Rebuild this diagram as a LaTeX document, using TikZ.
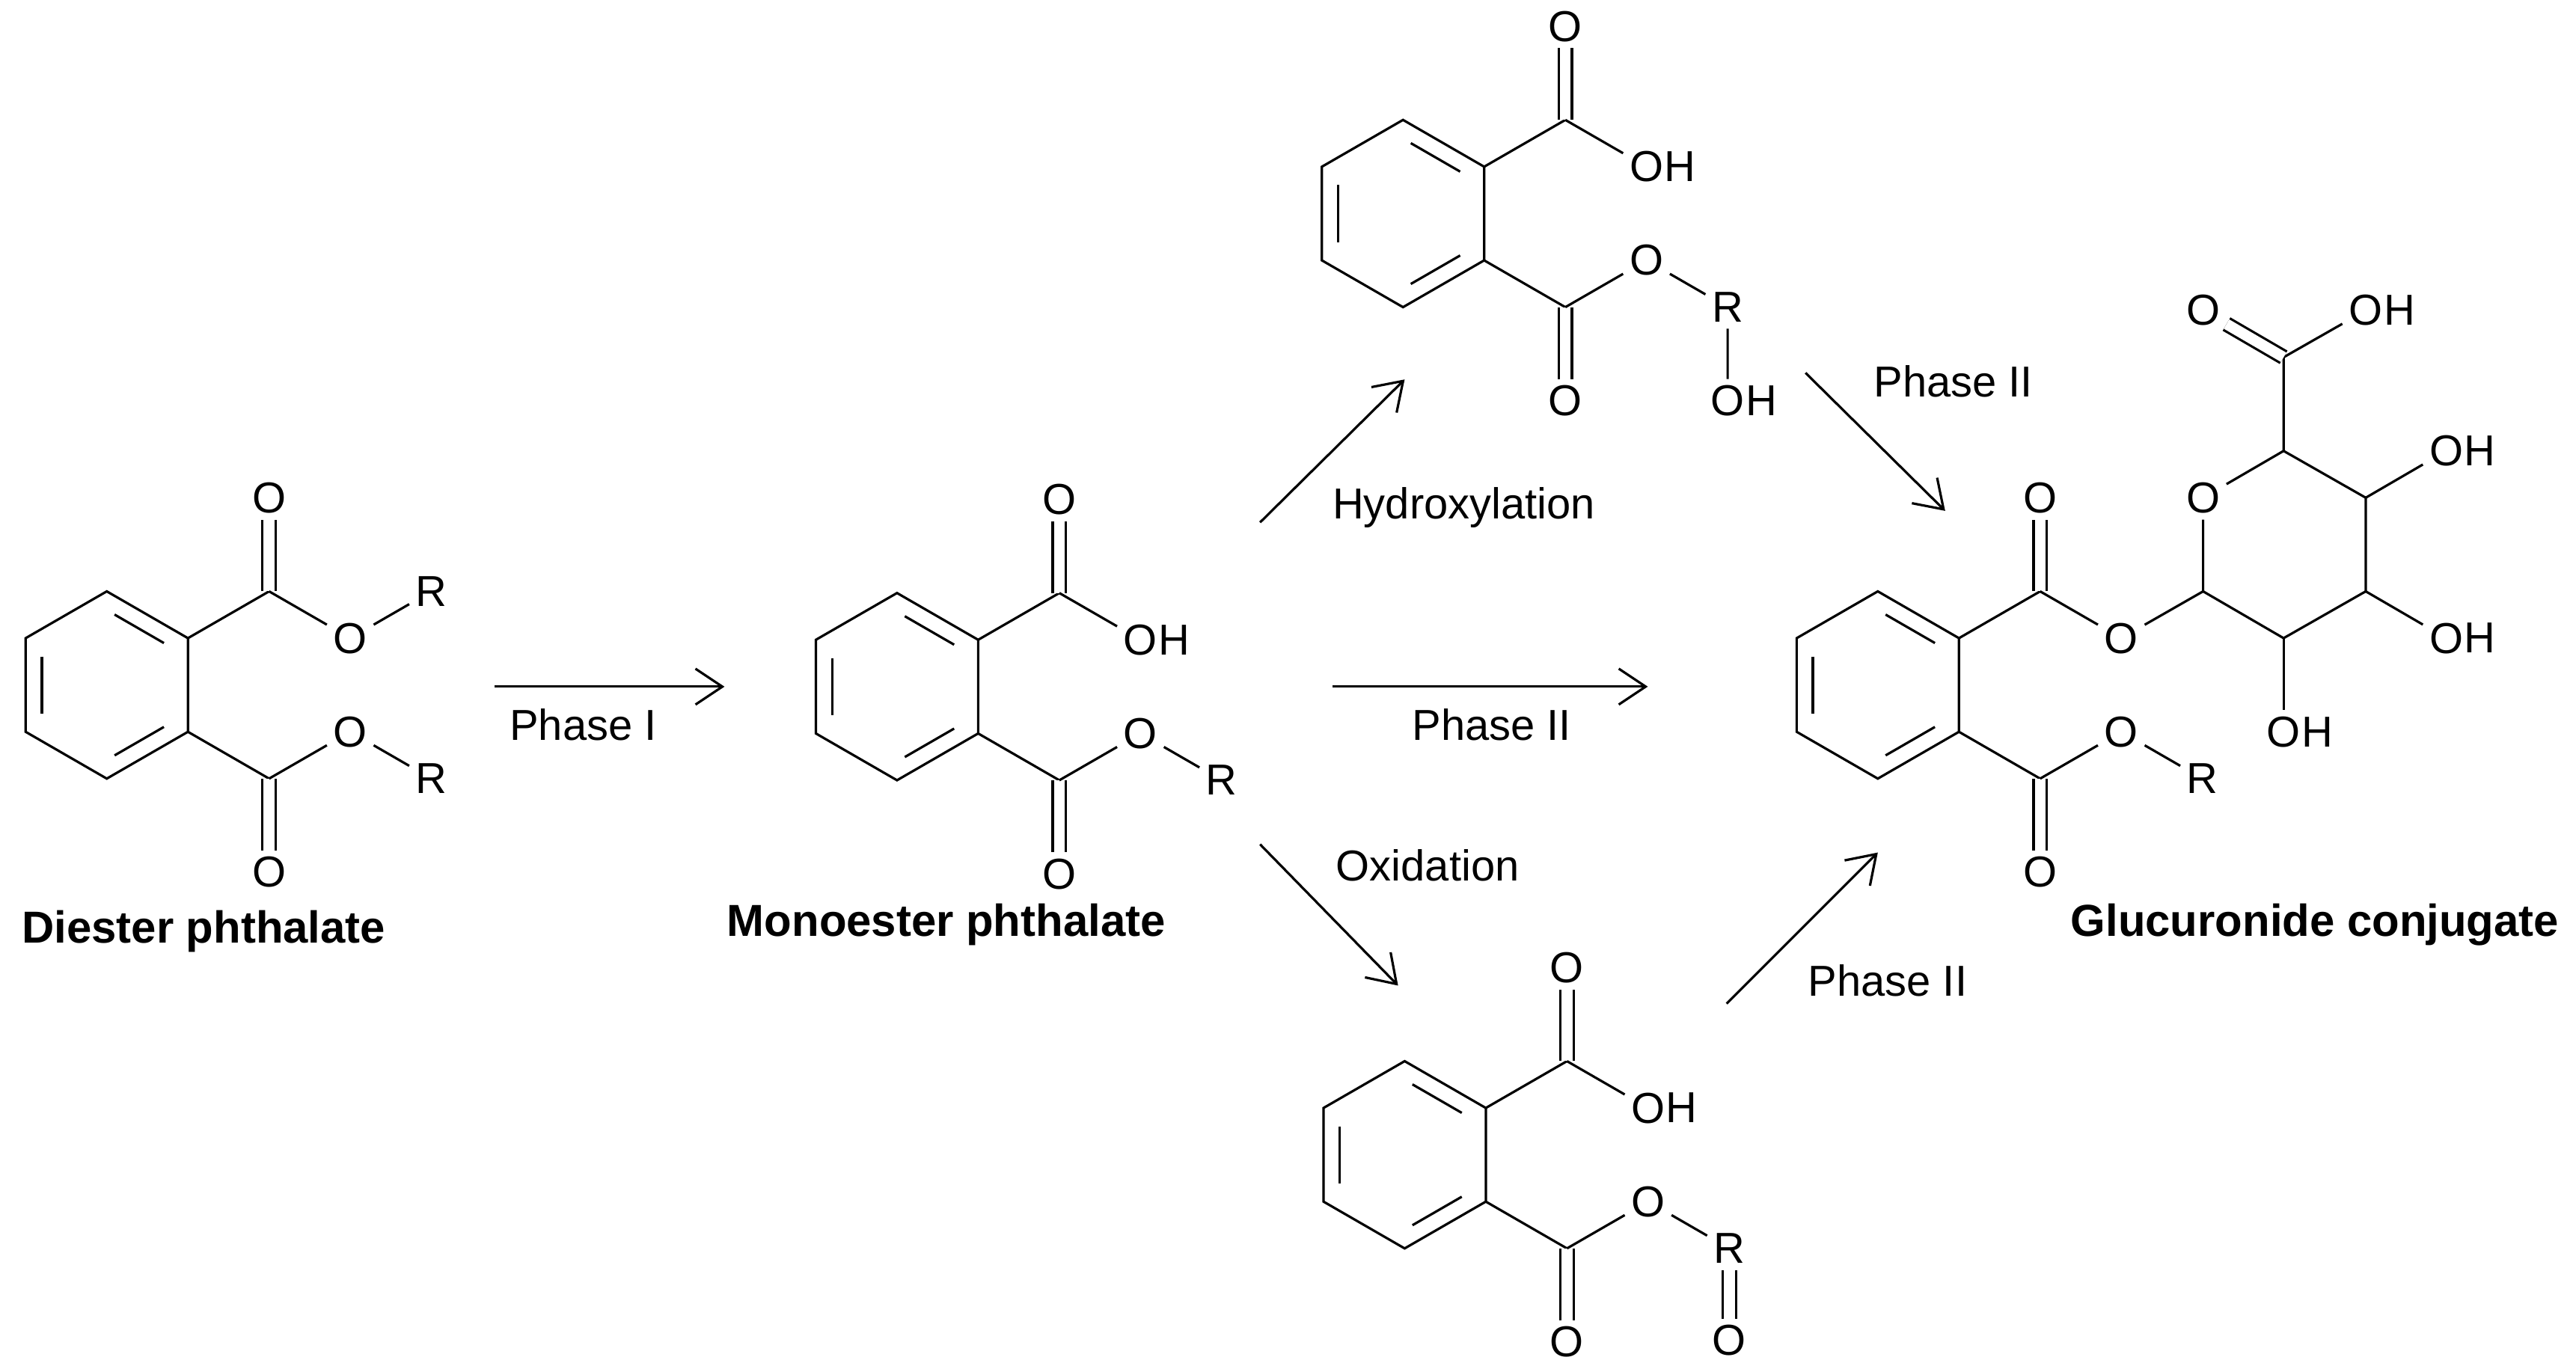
\documentclass[tikz,border=0pt]{standalone}
\usepackage{fontspec}
\setmainfont{Liberation Sans}
\usetikzlibrary{calc,arrows.meta}
\tikzset{
  bond/.style={line width=0.8pt, line join=miter},
  dbl/.style={line width=0.8pt, double, double distance=3.6pt},
  atom/.style={font=\fontsize{14.5}{16}\selectfont, inner sep=2pt},
  oh/.style={atom, label={[atom, inner sep=0pt, label distance=-2pt]east:H}},
  rxn/.style={line width=0.8pt, -{Straight Barb[length=9pt,width=12pt,line width=0.8pt]}},
  lab/.style={font=\fontsize{14.5}{16}\selectfont},
  title/.style={font=\fontsize{15}{17}\selectfont\bfseries},
}
\newcommand\phcore[3]{%
 \begin{scope}[shift={(#2,#3)}]
  \coordinate (#1a) at (49.4,-28.5);
  \coordinate (#1b) at (0,-57);
  \coordinate (#1c) at (-49.4,-28.5);
  \coordinate (#1d) at (-49.4,28.5);
  \coordinate (#1e) at (0,57);
  \coordinate (#1f) at (49.4,28.5);
  \coordinate (#1ia) at (39.5,-22.8);
  \coordinate (#1ib) at (0,-45.6);
  \coordinate (#1ic) at (-39.5,-22.8);
  \coordinate (#1id) at (-39.5,22.8);
  \coordinate (#1ie) at (0,45.6);
  \coordinate (#1if) at (39.5,22.8);
  \coordinate (#1C1) at (98.8,-57);
  \coordinate (#1C2) at (98.8,57);
  \node[atom] (#1O1) at (98.8,-114) {O};
  \node[atom] (#1O2) at (98.8,114) {O};
 \end{scope}
 \draw[bond] (#1a)--(#1b)--(#1c)--(#1d)--(#1e)--(#1f)--cycle;
 \draw[bond] ($(#1ib)!0.12!(#1ia)$)--($(#1ia)!0.12!(#1ib)$);
 \draw[bond] ($(#1ic)!0.12!(#1id)$)--($(#1id)!0.12!(#1ic)$);
 \draw[bond] ($(#1ie)!0.12!(#1if)$)--($(#1if)!0.12!(#1ie)$);
 \draw[bond] (#1a)--(#1C1) (#1f)--(#1C2);
 \draw[dbl] (#1C1)--(#1O1);
 \draw[dbl] (#1C2)--(#1O2);
}
\begin{document}
\begin{tikzpicture}[x=0.55pt,y=-0.55pt]
\useasboundingbox (0,0) rectangle (1568,833);

% Diester
\phcore{D}{65}{417}
\node[atom] (DO3) at (213.2,388.5) {O};
\node[atom] (DR1) at (262.6,360) {R};
\node[atom] (DO4) at (213.2,445.5) {O};
\node[atom] (DR2) at (262.6,474) {R};
\draw[bond] (DC1)--(DO3)--(DR1);
\draw[bond] (DC2)--(DO4)--(DR2);
\node[title] (Dlab) at (124,567) {Diester phthalate};

% Monoester
\phcore{M}{546}{418}
\node[oh] (MOH) at (694.2,389.5) {O};
\node[atom] (MO4) at (694.2,446.5) {O};
\node[atom] (MR) at (743.6,475) {R};
\draw[bond] (MC1)--(MOH);
\draw[bond] (MC2)--(MO4)--(MR);
\node[title] (Mlab) at (576,563) {Monoester phthalate};

% Top (hydroxylated)
\phcore{T}{854}{130}
\node[oh] (TOH) at (1002.2,101.5) {O};
\node[atom] (TO4) at (1002.2,158.5) {O};
\node[atom] (TR) at (1051.6,187) {R};
\node[oh] (TOH2) at (1051.6,244) {O};
\draw[bond] (TC1)--(TOH);
\draw[bond] (TC2)--(TO4)--(TR)--(TOH2);

% Bottom (oxidized)
\phcore{B}{855}{703}
\node[oh] (BOH) at (1003.2,674.5) {O};
\node[atom] (BO4) at (1003.2,731.5) {O};
\node[atom] (BR) at (1052.6,760) {R};
\node[atom] (BO5) at (1052.6,816) {O};
\draw[bond] (BC1)--(BOH);
\draw[bond] (BC2)--(BO4)--(BR);
\draw[dbl] (BR)--(BO5);

% Glucuronide
\phcore{G}{1143}{417}
\node[atom] (GO3) at (1291.2,388.5) {O};
\node[atom] (GO4) at (1291.2,445.5) {O};
\node[atom] (GR) at (1340.6,474) {R};
\draw[bond] (GC2)--(GO4)--(GR);
\coordinate (S1) at (1341,360);
\node[atom] (SO) at (1341,303) {O};
\coordinate (S5) at (1390,274.5);
\coordinate (S4) at (1440,303);
\coordinate (S3) at (1440,360);
\coordinate (S2) at (1390,388.5);
\coordinate (S6) at (1390,217.5);
\node[atom] (SO6) at (1341,189) {O};
\node[oh] (SOH6) at (1440,189) {O};
\node[oh] (SOH4) at (1489,274.5) {O};
\node[oh] (SOH3) at (1489,388.5) {O};
\node[oh] (SOH2) at (1390,445.5) {O};
\draw[bond] (GC1)--(GO3)--(S1);
\draw[bond] (S1)--(SO)--(S5)--(S4)--(S3)--(S2)--(S1);
\draw[bond] (S5)--(S6)--(SOH6);
\draw[dbl] (S6)--(SO6);
\draw[bond] (S4)--(SOH4);
\draw[bond] (S3)--(SOH3);
\draw[bond] (S2)--(SOH2);
\node[title] (Glab) at (1409,563) {Glucuronide conjugate};

% Reaction arrows
\coordinate (a1s) at (301,418); \coordinate (a1e) at (441,418);
\draw[rxn] (a1s)--(a1e);
\node[lab] (l1) at (355,441) {Phase I};

\coordinate (a2s) at (767,318); \coordinate (a2e) at (855,231);
\draw[rxn] (a2s)--(a2e);
\node[lab] (l2) at (891,309) {Hydroxylation};

\coordinate (a3s) at (811,418); \coordinate (a3e) at (1003,418);
\draw[rxn] (a3s)--(a3e);
\node[lab] (l3) at (908,441) {Phase II};

\coordinate (a4s) at (767,514); \coordinate (a4e) at (851,600);
\draw[rxn] (a4s)--(a4e);
\node[lab] (l4) at (869,527) {Oxidation};

\coordinate (a5s) at (1099,227); \coordinate (a5e) at (1184,311);
\draw[rxn] (a5s)--(a5e);
\node[lab] (l5) at (1189,232) {Phase II};

\coordinate (a6s) at (1051,611); \coordinate (a6e) at (1143,519);
\draw[rxn] (a6s)--(a6e);
\node[lab] (l6) at (1149,597) {Phase II};
\end{tikzpicture}
\end{document}
